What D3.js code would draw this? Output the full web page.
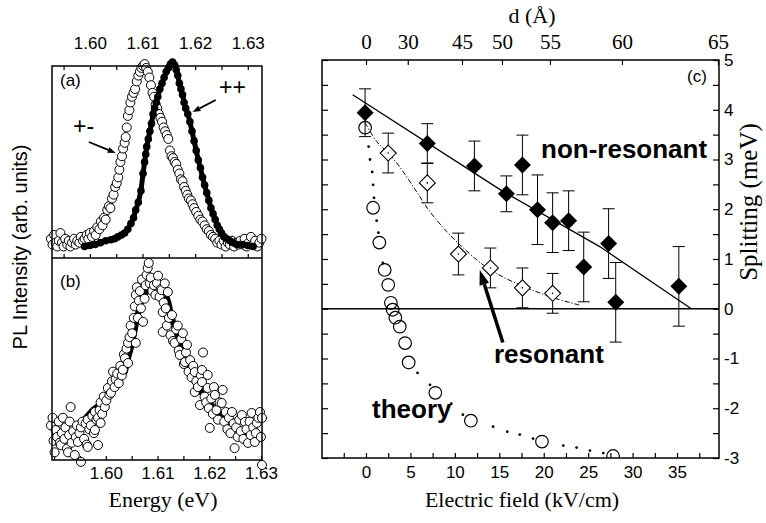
<!DOCTYPE html>
<html>
<head>
<meta charset="utf-8">
<script src="https://cdn.jsdelivr.net/npm/d3@7"></script>
<style>
  body { margin: 0; background: #fff; }
  svg { display: block; }
  .sans { font-family: "Liberation Sans", Arial, sans-serif; }
  .serif { font-family: "Liberation Serif", "Times New Roman", serif; }
</style>
</head>
<body>
<svg id="chart" width="766" height="523"></svg>
<script>
// ---------- data ----------

// panel (a): [energy (eV, top axis), PL intensity (arb.)]
var aPlusMinus = [[1.5926,10],[1.5929,7],[1.5932,12],[1.5935,8],[1.5938,6],[1.5941,9],[1.5944,13],[1.5947,8],
  [1.5950,6],[1.5953,10],[1.5957,7],[1.5960,9],[1.5963,6],[1.5966,8],[1.5970,10],[1.5973,7],[1.5976,9],
  [1.5980,8],[1.5983,11],[1.5987,9],[1.5990,10],[1.5994,12],[1.5997,10],[1.6000,13],[1.6004,11],[1.6008,14],
  [1.6011,12],[1.6014,16],[1.6018,15],[1.6021,19],[1.6024,17],[1.6027,21],[1.6030,20],[1.6033,25],[1.6036,27],
  [1.6039,26],[1.6042,31],[1.6045,33],[1.6048,37],[1.6051,39],[1.6054,42],[1.6056,46],[1.6058,50],[1.6061,53],
  [1.6063,57],[1.6066,60],[1.6068,63],[1.6070,68],[1.6072,74],[1.6075,77],[1.6077,81],[1.6080,84],[1.6083,86],
  [1.6086,88],[1.6089,92],[1.6092,95],[1.6095,97],[1.6098,99],[1.6101,100],[1.6104,101],[1.6107,99],[1.6110,97],
  [1.6113,94],[1.6116,90],[1.6119,86],[1.6122,84],[1.6125,80],[1.6128,78],[1.6131,75],[1.6134,73],[1.6137,71],
  [1.6140,68],[1.6143,66],[1.6146,64],[1.6149,62],[1.6152,56],[1.6155,53],[1.6158,52],[1.6161,50],[1.6164,49],
  [1.6167,46],[1.6170,44],[1.6173,41],[1.6176,40],[1.6179,37],[1.6182,35],[1.6185,33],[1.6188,31],[1.6192,30],
  [1.6195,28],[1.6198,26],[1.6202,24],[1.6206,22],[1.6210,20],[1.6214,19],[1.6218,17],[1.6222,15],[1.6226,14],
  [1.6230,12],[1.6234,11],[1.6238,10],[1.6242,8],[1.6246,9],[1.6250,7],[1.6254,9],[1.6258,6],[1.6262,8],
  [1.6266,7],[1.6270,9],[1.6274,6],[1.6278,8],[1.6282,7],[1.6286,9],[1.6290,7],[1.6294,10],[1.6298,6],
  [1.6302,8],[1.6306,11],[1.6310,7],[1.6314,9],[1.6318,6],[1.6322,8],[1.6326,10]];

var aPlusPlus = [[1.5990,6],[1.6000,6.5],[1.6010,7],[1.6020,8],[1.6030,9],[1.6040,9.5],[1.6047,10],[1.6053,11],
  [1.6060,12],[1.6066,13],[1.6072,15],[1.6078,18],[1.6083,21],[1.6087,25],[1.6092,29],[1.6097,35],[1.6101,44],
  [1.6104,50],[1.6106,54],[1.6108,58],[1.6111,62],[1.6114,66],[1.6117,70],[1.6120,75],[1.6123,78],[1.6126,81],
  [1.6129,84],[1.6133,88],[1.6137,91],[1.6141,94],[1.6145,97],[1.6149,99],[1.6153,101],[1.6157,102],[1.6161,100.5],
  [1.6164,98],[1.6167,95],[1.6170,91],[1.6173,88],[1.6176,85],[1.6179,81],[1.6182,78],[1.6186,75],[1.6190,71],
  [1.6194,66],[1.6198,61],[1.6202,56],[1.6206,51],[1.6210,47],[1.6214,42],[1.6218,38],[1.6222,34],[1.6226,30],
  [1.6230,26],[1.6234,23],[1.6238,20],[1.6242,17],[1.6246,15],[1.6250,13],[1.6255,11],[1.6260,10],[1.6266,9],
  [1.6272,8],[1.6280,7],[1.6290,7],[1.6300,6.5],[1.6310,6]];

// panel (b): [energy (eV, bottom axis), PL intensity (arb.)]
var bFilled = [[1.5896,12],[1.5905,12],[1.5915,12],[1.5925,13],[1.5935,15],[1.5945,18],[1.5955,20],[1.5965,23],
  [1.5975,26],[1.5985,28],[1.5995,31],[1.6005,34],[1.6015,37],[1.6022,40],[1.6030,43],[1.6037,46],[1.6043,53],
  [1.6050,60],[1.6056,68],[1.6062,76],[1.6068,82],[1.6074,86],[1.6080,88],[1.6086,90],[1.6092,91],[1.6098,90],
  [1.6104,89],[1.6110,88],[1.6116,86],[1.6121,82],[1.6126,76],[1.6131,71],[1.6136,66],[1.6142,62],[1.6148,58],
  [1.6154,53],[1.6160,48],[1.6168,43],[1.6178,38],[1.6188,34],[1.6198,30],[1.6210,27],[1.6224,23],[1.6236,20],
  [1.6249,18],[1.6262,15],[1.6275,13],[1.6288,12],[1.6300,11]];

var bOpen = [[1.5894,18],[1.5897,22],[1.5899,10],[1.5901,4],[1.5903,15.6],[1.5906,12],[1.5909,20],[1.5911,9],
  [1.5913,7.8],[1.5915,14],[1.5917,22],[1.5920,11],[1.5922,17],[1.5925,6],[1.5927,4],[1.5929,13],[1.5930,20],
  [1.5932,27.6],[1.5934,9],[1.5937,15],[1.5940,2.6],[1.5942,12],[1.5944,18],[1.5946,9.4],[1.5949,14],[1.5952,17],
  [1.5952,-1],[1.5955,20],[1.5958,11],[1.5961,19],[1.5963,8],[1.5965,21],[1.5965,6.8],[1.5968,16],[1.5971,18],
  [1.5974,23],[1.5977,14],[1.5979,25],[1.5979,15.6],[1.5982,21],[1.5985,22],[1.5985,7.8],[1.5988,26],[1.5990,30],
  [1.5990,19.3],[1.5993,24],[1.5996,33],[1.5998,27.6],[1.6001,31],[1.6004,37.5],[1.6007,34],[1.6010,35],
  [1.6012,41],[1.6014,46],[1.6017,38],[1.6019,42],[1.6022,45],[1.6025,40],[1.6028,49],[1.6031,44],[1.6033,47],
  [1.6035,55],[1.6037,53],[1.6040,58],[1.6043,50.5],[1.6043,61],[1.6046,64],[1.6048,70],[1.6051,66],[1.6054,74],
  [1.6056,80],[1.6058,61],[1.6058,86],[1.6060,90],[1.6062,74],[1.6064,83],[1.6066,88],[1.6068,79],[1.6070,94],
  [1.6072,72],[1.6075,84],[1.6077,91],[1.6079,96.4],[1.6081,100],[1.6083,102.6],[1.6085,92],[1.6087,95],
  [1.6090,88],[1.6093,91],[1.6096,86],[1.6099,92.2],[1.6101,96],[1.6104,85],[1.6106,89],[1.6108,88.5],[1.6110,77],
  [1.6110,66.7],[1.6112,82],[1.6114,92],[1.6116,79],[1.6118,70],[1.6120,87.5],[1.6122,74],[1.6125,65],
  [1.6128,75.5],[1.6130,62],[1.6133,61],[1.6136,68],[1.6139,70],[1.6141,57],[1.6143,54.7],[1.6146,63],[1.6149,66],
  [1.6151,50],[1.6153,51],[1.6155,56],[1.6157,60],[1.6160,46],[1.6163,52],[1.6166,43],[1.6169,49],[1.6172,45.8],
  [1.6172,35.4],[1.6175,41],[1.6178,38],[1.6182,28.6],[1.6184,44],[1.6186,46.9],[1.6186,40.6],[1.6188,56],
  [1.6191,33],[1.6194,30],[1.6197,44.3],[1.6197,37.5],[1.6199,27],[1.6201,16.7],[1.6204,32],[1.6207,24],
  [1.6209,38],[1.6211,33.9],[1.6214,26],[1.6217,21],[1.6220,30],[1.6224,29.7],[1.6226,36.5],[1.6229,20],
  [1.6232,25],[1.6235,16],[1.6238,22],[1.6241,14],[1.6244,25],[1.6247,19],[1.6249,6.2],[1.6252,17],[1.6255,12],
  [1.6258,21],[1.6261,15],[1.6263,23.4],[1.6266,11],[1.6269,19.8],[1.6272,16],[1.6275,8.9],[1.6278,20],
  [1.6280,13],[1.6282,24.5],[1.6285,17],[1.6288,9.4],[1.6290,14],[1.6292,19.3],[1.6295,22],[1.6298,25],
  [1.6300,12],[1.6302,21.9],[1.6302,-2.6]];

// panel (c): splitting vs electric field
var nonResField = [-0.1, 6.9, 12.2, 15.8, 17.6, 19.3, 21.0, 22.8, 24.5, 27.3, 28.1, 35.2];
var nonResSplit = [3.94, 3.32, 2.87, 2.31, 2.89, 1.99, 1.73, 1.77, 0.84, 1.31, 0.13, 0.45];
var nonResErr   = [0.48, 0.40, 0.50, 0.36, 0.60, 0.70, 0.60, 0.60, 0.70, 0.70, 0.80, 0.80];

var resField = [2.5, 6.9, 10.4, 14.0, 17.6, 21.0];
var resSplit = [3.13, 2.53, 1.10, 0.82, 0.42, 0.31];
var resErr   = [0.40, 0.40, 0.42, 0.40, 0.40, 0.40];

var nonResFitField = [-1.5, 15.4, 26.3, 36.6];
var nonResFitSplit = [4.30, 2.36, 1.25, 0.0];

var resFitField = [-0.1, 1.2, 2.5, 3.8, 5.7, 7.2, 9.1, 10.9, 13.2, 15.4, 18.1, 21.1, 24.1];
var resFitSplit = [3.74, 3.36, 3.13, 2.85, 2.35, 1.95, 1.55, 1.23, 0.88, 0.64, 0.42, 0.22, 0.07];

var theoryField = [-0.1, 0.8, 1.5, 2.1, 2.5, 2.8, 3.0, 3.3, 3.8, 4.4, 4.8, 7.8, 11.8, 19.8, 27.8];
var theorySplit = [3.64, 2.03, 1.33, 0.78, 0.48, 0.12, -0.02, -0.18, -0.36, -0.69, -1.08, -1.69, -2.25, -2.67, -2.96];

var theoryDotField = [0.3, 0.45, 0.7, 0.8, 0.9, 1.2, 1.4, 1.9, 5.8, 7.2, 9.6, 10.9, 14.3, 15.9, 17.3, 18.8, 22.2, 23.7, 25.2, 26.7];
var theoryDotSplit = [3.26, 3.0, 2.75, 2.49, 2.23, 1.77, 1.53, 0.92, -1.29, -1.53, -1.91, -2.13, -2.37, -2.47, -2.53, -2.61, -2.75, -2.79, -2.85, -2.9];

// tick labels
var energyLabels = [1.60, 1.61, 1.62, 1.63];
var fieldLabels = [0, 5, 10, 15, 20, 25, 30, 35];
var splitLabels = [-3, -2, -1, 0, 1, 2, 3, 4, 5];
var dTicks = [0, 30, 45, 50, 55, 60, 65];
var dTickField = [0, 4.7, 10.8, 15.3, 20.7, 28.8, 39.6];   // where each d tick sits on the field axis

// ---------- drawing ----------
var svg = d3.select("#chart");

function diamond(r) { return "M0," + (-r) + "L" + r + ",0L0," + r + "L" + (-r) + ",0Z"; }

// straight arrow with a filled head
function arrow(g, x1, y1, x2, y2, width, headLen, headW) {
    var a = Math.atan2(y2 - y1, x2 - x1);
    var bx = x2 - headLen * Math.cos(a), by = y2 - headLen * Math.sin(a);
    g.append("line").attr("x1", x1).attr("y1", y1).attr("x2", bx).attr("y2", by)
        .attr("stroke", "#000").attr("stroke-width", width);
    var px = Math.sin(a) * headW / 2, py = -Math.cos(a) * headW / 2;
    g.append("path").attr("fill", "#000")
        .attr("d", "M" + x2 + "," + y2 + "L" + (bx + px) + "," + (by + py) + "L" + (bx - px) + "," + (by - py) + "Z");
}

function same(a, b) { return Math.abs(a - b) < 1e-6; }

// ----- left panels -----
var L = { left: 52, right: 262, top: 66, mid: 258, bottom: 460 };

var xTop = d3.scaleLinear().domain([1.5928, 1.6327]).range([L.left, L.right]);
var xBot = d3.scaleLinear().domain([1.5896, 1.6302]).range([L.left, L.right]);
var yA = d3.scaleLinear().domain([0, 100]).range([L.mid, L.top]);
var yB = d3.scaleLinear().domain([0, 100]).range([L.bottom, 268]);

var energyFmt = function(d) {
    return energyLabels.some(function(v) { return same(v, d); }) ? d3.format(".2f")(d) : "";
};

svg.append("g").attr("class", "sans")
    .attr("transform", "translate(0," + L.top + ")")
    .call(d3.axisTop(xTop).tickValues(d3.range(1.595, 1.6305, 0.005))
        .tickFormat(energyFmt).tickSizeInner(-4).tickSizeOuter(0).tickPadding(17));
// ticks along the a/b divider
svg.append("g").attr("transform", "translate(0," + L.mid + ")")
    .call(d3.axisBottom(xTop).tickValues(d3.range(1.595, 1.6305, 0.005))
        .tickFormat("").tickSizeInner(-4).tickSizeOuter(0));
svg.append("g").attr("class", "sans")
    .attr("transform", "translate(0," + L.bottom + ")")
    .call(d3.axisBottom(xBot).tickValues(d3.range(1.59, 1.6305, 0.005))
        .tickFormat(energyFmt).tickSizeInner(-4).tickSizeOuter(0).tickPadding(7));

// spectra (a)
var pa = svg.append("g");
pa.selectAll("circle.pm").data(aPlusMinus).join("circle")
    .attr("cx", d => xTop(d[0])).attr("cy", d => yA(d[1])).attr("r", 4.5)
    .attr("fill", "#fff").attr("stroke", "#000").attr("stroke-width", 1);
var lineA = d3.line().x(d => xTop(d[0])).y(d => yA(d[1]));
pa.append("path").attr("d", lineA(aPlusPlus)).attr("fill", "none")
    .attr("stroke", "#000").attr("stroke-width", 5);
pa.selectAll("circle.pp").data(aPlusPlus).join("circle")
    .attr("cx", d => xTop(d[0])).attr("cy", d => yA(d[1])).attr("r", 3.8).attr("fill", "#000");

// spectra (b)
var pb = svg.append("g");
var lineB = d3.line().x(d => xBot(d[0])).y(d => yB(d[1]));
pb.append("path").attr("d", lineB(bFilled)).attr("fill", "none")
    .attr("stroke", "#000").attr("stroke-width", 6);
pb.selectAll("circle").data(bOpen).join("circle")
    .attr("cx", d => xBot(d[0])).attr("cy", d => yB(d[1])).attr("r", 4.5)
    .attr("fill", "#fff").attr("stroke", "#000").attr("stroke-width", 1);

// frames
svg.append("rect").attr("x", L.left).attr("y", L.top)
    .attr("width", L.right - L.left).attr("height", L.bottom - L.top)
    .attr("fill", "none").attr("stroke", "#000").attr("stroke-width", 1.5);
svg.append("line").attr("x1", L.left).attr("x2", L.right).attr("y1", L.mid).attr("y2", L.mid)
    .attr("stroke", "#000").attr("stroke-width", 1.5);

// annotations (a)/(b)
svg.append("text").attr("class", "sans").attr("x", 60).attr("y", 86).attr("font-size", 17).text("(a)");
svg.append("text").attr("class", "sans").attr("x", 60).attr("y", 287).attr("font-size", 17).text("(b)");
svg.append("text").attr("class", "sans").attr("x", 219).attr("y", 95).attr("font-size", 23).text("++");
svg.append("text").attr("class", "sans").attr("x", 73).attr("y", 134).attr("font-size", 23).text("+-");
arrow(svg, xTop(1.6239), yA(82.3), xTop(1.6195), yA(76), 1.8, 8, 6);
arrow(svg, xTop(1.5998), yA(60.4), xTop(1.6049), yA(54.7), 1.8, 8, 6);

svg.append("text").attr("class", "sans").attr("font-size", 20)
    .attr("text-anchor", "middle").attr("transform", "translate(27,247) rotate(-90)")
    .text("PL Intensity (arb. units)");
svg.append("text").attr("class", "serif").attr("font-size", 22)
    .attr("text-anchor", "middle").attr("x", 163).attr("y", 507).text("Energy (eV)");

// ----- right panel -----
var R = { left: 322, right: 719, top: 60, bottom: 458 };
var x = d3.scaleLinear().domain([-4.95, 39.72]).range([R.left, R.right]);
var y = d3.scaleLinear().domain([-3, 5]).range([R.bottom, R.top]);
var dScale = d3.scaleLinear().domain(dTicks).range(dTickField.map(x));

svg.append("defs").append("clipPath").attr("id", "clipC")
    .append("rect").attr("x", R.left).attr("y", R.top)
    .attr("width", R.right - R.left).attr("height", R.bottom - R.top);

var fieldFmt = d => fieldLabels.some(v => same(v, d)) ? String(d) : "";
var splitFmt = d => splitLabels.some(v => same(v, d)) ? String(d) : "";

svg.append("g").attr("class", "sans").attr("transform", "translate(0," + R.bottom + ")")
    .call(d3.axisBottom(x).tickValues(d3.range(-2.5, 38, 2.5)).tickFormat(fieldFmt)
        .tickSizeInner(-5).tickSizeOuter(0).tickPadding(8));
svg.append("g").attr("class", "sans").attr("transform", "translate(" + R.right + ",0)")
    .call(d3.axisRight(y).tickValues(d3.range(-3, 5.01, 0.5)).tickFormat(splitFmt)
        .tickSizeInner(-6).tickSizeOuter(0).tickPadding(5));
svg.append("g").attr("transform", "translate(" + R.left + ",0)")
    .call(d3.axisLeft(y).tickValues(d3.range(-3, 5.01, 0.5)).tickFormat("")
        .tickSizeInner(-6).tickSizeOuter(0));
svg.append("g").attr("class", "serif").attr("transform", "translate(0," + R.top + ")")
    .call(d3.axisTop(dScale).tickValues(dTicks).tickFormat(d => String(d))
        .tickSizeInner(-5).tickSizeOuter(0).tickPadding(11));

var pc = svg.append("g").attr("clip-path", "url(#clipC)");

// zero line
pc.append("line").attr("x1", R.left).attr("x2", R.right).attr("y1", y(0)).attr("y2", y(0))
    .attr("stroke", "#000").attr("stroke-width", 1.6);

var line = d3.line().x(d => x(d[0])).y(d => y(d[1]));
pc.append("path").attr("d", line(d3.zip(nonResFitField, nonResFitSplit)))
    .attr("fill", "none").attr("stroke", "#000").attr("stroke-width", 1.3);
pc.append("path").attr("d", line.curve(d3.curveCatmullRom)(d3.zip(resFitField, resFitSplit)))
    .attr("fill", "none").attr("stroke", "#000").attr("stroke-width", 1)
    .attr("stroke-dasharray", "5,2,1.2,2");

// theory dots + circles
pc.selectAll("circle.tdot").data(d3.zip(theoryDotField, theoryDotSplit)).join("circle")
    .attr("class", "tdot").attr("cx", d => x(d[0])).attr("cy", d => y(d[1])).attr("r", 1.4).attr("fill", "#000");
pc.selectAll("circle.tc").data(d3.zip(theoryField, theorySplit)).join("circle")
    .attr("class", "tc").attr("cx", d => x(d[0])).attr("cy", d => y(d[1])).attr("r", 6.3)
    .attr("fill", "none").attr("stroke", "#000").attr("stroke-width", 1.2);

// error bars
function errorBars(fields, vals, errs) {
    var g = pc.append("g").attr("stroke", "#000").attr("stroke-width", 1);
    fields.forEach(function(f, i) {
        var cx = x(f), y1 = y(vals[i] + errs[i]), y2 = y(vals[i] - errs[i]);
        g.append("line").attr("x1", cx).attr("x2", cx).attr("y1", y1).attr("y2", y2);
        g.append("line").attr("x1", cx - 6).attr("x2", cx + 6).attr("y1", y1).attr("y2", y1);
        g.append("line").attr("x1", cx - 6).attr("x2", cx + 6).attr("y1", y2).attr("y2", y2);
    });
}
errorBars(resField, resSplit, resErr);
errorBars(nonResField, nonResSplit, nonResErr);

pc.selectAll("path.od").data(d3.zip(resField, resSplit)).join("path")
    .attr("class", "od").attr("d", diamond(8))
    .attr("transform", d => "translate(" + x(d[0]) + "," + y(d[1]) + ")")
    .attr("fill", "#fff").attr("stroke", "#000").attr("stroke-width", 1.1);
pc.selectAll("circle.odc").data(d3.zip(resField, resSplit)).join("circle")
    .attr("class", "odc").attr("cx", d => x(d[0])).attr("cy", d => y(d[1])).attr("r", 0.8).attr("fill", "#000");
pc.selectAll("path.fd").data(d3.zip(nonResField, nonResSplit)).join("path")
    .attr("class", "fd").attr("d", diamond(8.5))
    .attr("transform", d => "translate(" + x(d[0]) + "," + y(d[1]) + ")")
    .attr("fill", "#000");

svg.append("rect").attr("x", R.left).attr("y", R.top)
    .attr("width", R.right - R.left).attr("height", R.bottom - R.top)
    .attr("fill", "none").attr("stroke", "#000").attr("stroke-width", 1.5);

// labels (c)
svg.append("text").attr("class", "sans").attr("x", 697).attr("y", 82)
    .attr("text-anchor", "middle").attr("font-size", 17).text("(c)");
svg.append("text").attr("class", "sans").attr("font-weight", "bold").attr("font-size", 26)
    .attr("x", 541).attr("y", 158).text("non-resonant");
svg.append("text").attr("class", "sans").attr("font-weight", "bold").attr("font-size", 26)
    .attr("x", 494).attr("y", 363).text("resonant");
svg.append("text").attr("class", "sans").attr("font-weight", "bold").attr("font-size", 26)
    .attr("x", 372).attr("y", 418).text("theory");
arrow(svg, x(15.4), y(-0.68), x(12.8), y(0.78), 3.5, 15, 10);

svg.append("text").attr("class", "serif").attr("font-size", 22)
    .attr("text-anchor", "middle").attr("x", 522).attr("y", 507).text("Electric field (kV/cm)");
svg.append("text").attr("class", "serif").attr("font-size", 22)
    .attr("text-anchor", "middle").attr("x", 532).attr("y", 23).text("d (Å)");
svg.append("text").attr("class", "serif").attr("font-size", 25)
    .attr("text-anchor", "middle").attr("transform", "translate(757,202) rotate(-90)")
    .text("Splitting (meV)");

// axis styling
svg.selectAll(".domain").remove();
svg.selectAll(".tick line").attr("stroke", "#000").attr("stroke-width", 1.2);
svg.selectAll(".tick text").attr("fill", "#000").attr("font-size", 17);
svg.selectAll("g.serif .tick text").attr("font-size", 21);
</script>
</body>
</html>
